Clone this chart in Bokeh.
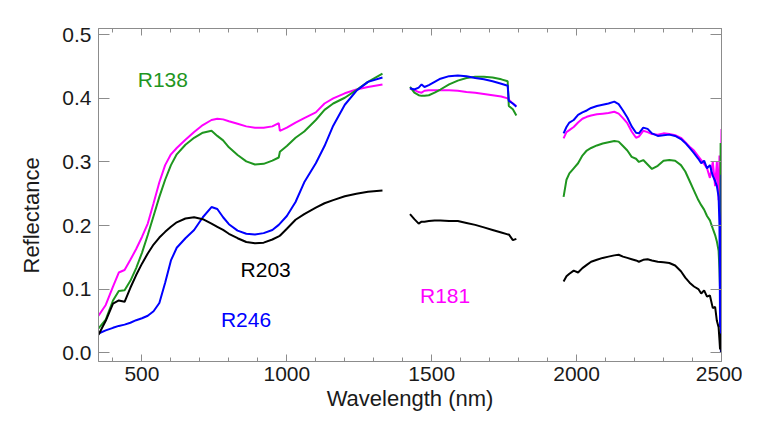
from bokeh.plotting import figure
from bokeh.models import (ColumnDataSource, FixedTicker, LinearAxis, PrintfTickFormatter,
                          Range1d, Title)
from bokeh.embed import file_html
from bokeh.resources import INLINE
from bokeh.core.properties import value

# ---------------- data ----------------
# Segment A: VNIR / NIR
wl_a = [350, 375, 400, 420, 440, 460, 480, 500, 520, 540, 560, 580, 600, 620, 650, 680,
        710, 740, 760, 780, 800, 830, 860, 890, 920, 950, 972, 976, 1000, 1030, 1060,
        1100, 1130, 1160, 1200, 1240, 1280, 1330]
r181_a = [0.058, 0.075, 0.104, 0.126, 0.130, 0.146, 0.163, 0.182, 0.203, 0.235, 0.268, 0.295,
          0.312, 0.322, 0.335, 0.347, 0.358, 0.366, 0.368, 0.367, 0.364, 0.360, 0.356, 0.354,
          0.354, 0.356, 0.361, 0.349, 0.354, 0.362, 0.369, 0.378, 0.392, 0.400, 0.408, 0.414,
          0.418, 0.422]
r138_a = [0.038, 0.052, 0.082, 0.097, 0.098, 0.113, 0.133, 0.157, 0.185, 0.215, 0.245, 0.272,
          0.295, 0.312, 0.327, 0.338, 0.346, 0.349, 0.341, 0.334, 0.323, 0.311, 0.301, 0.296,
          0.297, 0.302, 0.307, 0.316, 0.325, 0.338, 0.348, 0.366, 0.382, 0.392, 0.401, 0.413,
          0.426, 0.439]
r246_a = [0.030, 0.035, 0.039, 0.042, 0.044, 0.047, 0.051, 0.054, 0.058, 0.065, 0.078, 0.110,
          0.145, 0.165, 0.180, 0.193, 0.213, 0.229, 0.226, 0.213, 0.202, 0.192, 0.187, 0.186,
          0.188, 0.193, 0.201, 0.203, 0.215, 0.237, 0.268, 0.298, 0.325, 0.357, 0.390, 0.412,
          0.426, 0.433]
r203_a = [0.028, 0.050, 0.077, 0.082, 0.080, 0.102, 0.122, 0.140, 0.156, 0.170, 0.181, 0.190,
          0.198, 0.205, 0.211, 0.213, 0.210, 0.203, 0.198, 0.193, 0.187, 0.180, 0.174, 0.172,
          0.173, 0.178, 0.183, 0.184, 0.195, 0.209, 0.218, 0.228, 0.235, 0.240, 0.246, 0.250,
          0.253, 0.255]

# Segment B: SWIR-1
wl_b = [1425, 1440, 1455, 1465, 1475, 1490, 1510, 1530, 1560, 1590, 1620, 1650, 1680, 1710,
        1740, 1762, 1766, 1780, 1792]
r181_b = [0.416, 0.413, 0.410, 0.409, 0.412, 0.413, 0.413, 0.413, 0.413, 0.412, 0.410, 0.409,
          0.407, 0.405, 0.403, 0.400, 0.398, 0.392, 0.388]
r138_b = [0.418, 0.409, 0.405, 0.404, 0.404, 0.405, 0.409, 0.414, 0.422, 0.428, 0.432, 0.434,
          0.434, 0.433, 0.430, 0.427, 0.388, 0.383, 0.373]
r246_b = [0.416, 0.414, 0.417, 0.422, 0.418, 0.421, 0.426, 0.431, 0.435, 0.436, 0.435, 0.432,
          0.430, 0.427, 0.423, 0.420, 0.396, 0.392, 0.387]
r203_b = [0.218, 0.210, 0.203, 0.206, 0.206, 0.207, 0.208, 0.208, 0.207, 0.207, 0.204, 0.201,
          0.197, 0.193, 0.189, 0.186, 0.186, 0.177, 0.179]

# Segment C: SWIR-2
wl_c = [1955, 1965, 1975, 1990, 2005, 2020, 2035, 2050, 2070, 2090, 2110, 2130, 2145, 2160,
        2175, 2190, 2205, 2215, 2230, 2245, 2260, 2280, 2300, 2320, 2340, 2360, 2375, 2390,
        2405, 2420, 2430, 2440, 2450, 2460, 2470, 2478, 2484, 2490, 2493, 2495, 2497, 2498, 2500]
r181_c = [0.337, 0.347, 0.350, 0.355, 0.362, 0.368, 0.371, 0.373, 0.375, 0.376, 0.377, 0.379,
          0.376, 0.369, 0.361, 0.348, 0.338, 0.340, 0.349, 0.347, 0.344, 0.343, 0.345, 0.344,
          0.342, 0.338, 0.331, 0.324, 0.318, 0.309, 0.303, 0.297, 0.290, 0.275, 0.300, 0.262,
          0.300, 0.240, 0.310, 0.200, 0.120, 0.250, 0.352]
r138_c = [0.245, 0.272, 0.282, 0.290, 0.298, 0.310, 0.318, 0.322, 0.326, 0.329, 0.331, 0.333,
          0.332, 0.325, 0.318, 0.308, 0.305, 0.300, 0.303, 0.296, 0.289, 0.294, 0.302, 0.303,
          0.302, 0.295, 0.285, 0.270, 0.255, 0.240, 0.232, 0.225, 0.215, 0.208, 0.195, 0.185,
          0.175, 0.160, 0.130, 0.100, 0.330, 0.150, 0.020]
r246_c = [0.345, 0.355, 0.362, 0.366, 0.374, 0.378, 0.381, 0.385, 0.388, 0.390, 0.392, 0.395,
          0.391, 0.381, 0.370, 0.356, 0.346, 0.345, 0.354, 0.352, 0.345, 0.341, 0.342, 0.343,
          0.341, 0.336, 0.330, 0.322, 0.314, 0.305, 0.298, 0.302, 0.290, 0.295, 0.278, 0.270,
          0.262, 0.245, 0.200, 0.040, 0.100, 0.000, 0.280]
r203_c = [0.112, 0.120, 0.124, 0.129, 0.126, 0.133, 0.138, 0.143, 0.146, 0.149, 0.151, 0.153,
          0.154, 0.151, 0.149, 0.147, 0.145, 0.143, 0.146, 0.147, 0.145, 0.143, 0.142, 0.141,
          0.137, 0.128, 0.118, 0.110, 0.104, 0.100, 0.093, 0.098, 0.088, 0.090, 0.070, 0.072,
          0.050, 0.040, 0.020, 0.005, 0.030, 0.010, 0.000]

series_names = ["R181", "R138", "R246", "R203"]
series_colors = ["#ff00ff", "#1f961f", "#0000ff", "#000000"]
series_data = {
    "R181": (r181_a, r181_b, r181_c),
    "R138": (r138_a, r138_b, r138_c),
    "R246": (r246_a, r246_b, r246_c),
    "R203": (r203_a, r203_b, r203_c),
}

label_text = ["R138", "R203", "R246", "R181"]
label_x = [572, 927, 859, 1546]
label_y = [0.429, 0.131, 0.0526, 0.0893]
label_color = ["#1f961f", "#000000", "#0000ff", "#ff00ff"]

x_major = [500, 1000, 1500, 2000, 2500]
x_minor = list(range(400, 2500, 100))
y_major = [0.0, 0.1, 0.2, 0.3, 0.4, 0.5]

# ---------------- figure ----------------
FONT = "Liberation Sans"
AXC = "#8c8c8c"
TXT = "#1a1a1a"

p = figure(width=742, height=414, output_backend="svg", toolbar_location=None,
           x_range=Range1d(350, 2500), y_range=Range1d(-0.014, 0.51),
           min_border_left=98, min_border_right=21, min_border_top=28, min_border_bottom=53,
           x_axis_location=None, y_axis_location=None)
p.xgrid.visible = False
p.ygrid.visible = False
p.outline_line_color = AXC
p.outline_line_width = 1
p.background_fill_color = "white"
p.border_fill_color = "white"

def style_axis(ax, ticks, minor, labels, tick_len):
    ax.ticker = FixedTicker(ticks=ticks, minor_ticks=minor)
    ax.axis_line_color = AXC
    ax.major_tick_line_color = AXC
    ax.minor_tick_line_color = AXC
    ax.major_tick_in = tick_len
    ax.major_tick_out = 0
    ax.minor_tick_in = 4
    ax.minor_tick_out = 0
    ax.major_label_text_font = FONT
    ax.major_label_text_font_size = "21px"
    ax.major_label_text_color = TXT
    if not labels:
        ax.major_label_text_font_size = "0px"
        ax.major_label_text_alpha = 0
        ax.major_label_standoff = 0

xb = LinearAxis()
style_axis(xb, x_major, x_minor, True, 7)
xb.major_label_standoff = 5
p.add_layout(xb, "below")
xt = LinearAxis()
style_axis(xt, x_major, x_minor, False, 7)
p.add_layout(xt, "above")
yl = LinearAxis(formatter=PrintfTickFormatter(format="%.1f"))
style_axis(yl, y_major, [], True, 11)
yl.major_label_standoff = 7
p.add_layout(yl, "left")
yr = LinearAxis()
style_axis(yr, y_major, [], False, 11)
p.add_layout(yr, "right")

nan = float("nan")
wl_all = wl_a + [nan] + wl_b + [nan] + wl_c
for name, color in zip(series_names, series_colors):
    a, b, c = series_data[name]
    ys = a + [nan] + b + [nan] + c
    p.line(wl_all, ys, line_color=color, line_width=2)

src = ColumnDataSource(dict(x=label_x, y=label_y, t=label_text, c=label_color))
p.text(x="x", y="y", text="t", text_color="c", source=src, text_font=value(FONT),
       text_font_size="21px", text_align="center", text_baseline="middle")

# axis titles
p.add_layout(Title(text="Wavelength (nm)", align="center", text_font=FONT,
                   text_font_size="22px", text_font_style="normal", text_color=TXT,
                   standoff=0), "below")
p.add_layout(Title(text="Reflectance", align="left", text_font=FONT, offset=88,
                   text_font_size="22px", text_font_style="normal", text_color=TXT,
                   standoff=31), "left")

open("out.html", "w").write(file_html(p, INLINE))
